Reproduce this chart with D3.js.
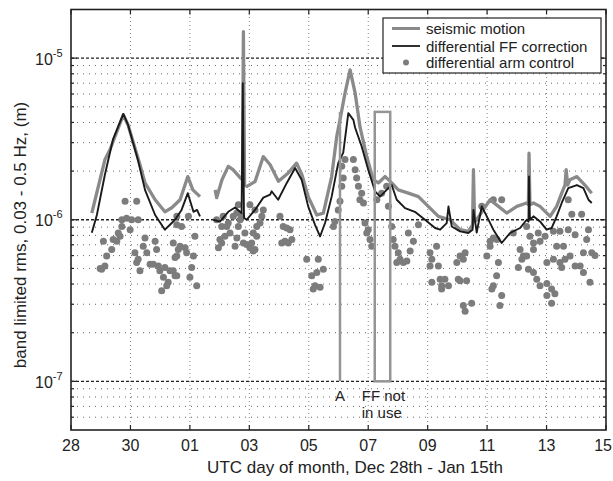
<!DOCTYPE html>
<html>
<head>
<meta charset="utf-8">
<script src="https://cdn.jsdelivr.net/npm/d3@7"></script>
<style>
  body { margin: 0; background: #fff; }
  text { font-family: "Liberation Sans", Arial, Helvetica, sans-serif; fill: #222; }
</style>
</head>
<body>
<svg id="chart" width="613" height="481"></svg>
<script>
// x = days since Dec 28 00:00 UTC, y = rms in micrometres (converted to m below)
const UM = 1e-6;

const dayTicks = [0, 2, 4, 6, 8, 10, 12, 14, 16, 18];
const dayLabels = ["28", "30", "01", "03", "05", "07", "09", "11", "13", "15"];
const decades = [1e-7, 1e-6, 1e-5];
const decadeExp = ["-7", "-6", "-5"];

// seismic motion (null = data gap)
const seismic = [
  [0.70, 1.10], [0.81, 1.33], [1.14, 2.35], [1.31, 2.71], [1.76, 4.46], [1.92, 3.86],
  [2.32, 2.19], [2.49, 1.69], [2.83, 1.33], [3.16, 1.12], [3.40, 1.19], [3.67, 1.33],
  [3.93, 1.85], [4.10, 1.53], [4.34, 1.39], [4.60, null],
  [4.85, 1.53], [4.90, 1.37], [5.08, 1.77], [5.29, 2.14], [5.45, 2.04], [5.69, 1.82],
  [5.77, 1.77], [5.80, 14.6], [5.84, 1.64], [5.92, 1.61], [6.19, 1.72], [6.47, 2.46],
  [6.70, 2.19], [6.98, 1.73], [7.31, 1.95], [7.59, 2.24], [7.77, 1.90], [7.98, 1.39],
  [8.27, 1.07], [8.49, 1.10], [8.77, 1.85], [8.94, 3.27], [9.05, 4.15], [9.22, 6.08],
  [9.39, 8.47], [9.56, 6.08], [9.72, 3.78], [9.95, 2.46], [10.17, 1.77], [10.34, 1.69],
  [10.57, 1.85], [10.79, 1.69], [11.01, 1.53], [11.35, 1.46], [11.69, 1.39], [12.02, 1.21],
  [12.36, 1.05], [12.75, 1.00], [13.09, 0.868], [13.37, 0.847], [13.51, 0.931], [13.54, 2.04],
  [13.58, 0.973], [13.65, 1.00], [13.87, 1.15], [14.10, 1.33], [14.38, 1.21], [14.66, 1.10],
  [15.00, 1.21], [15.33, 1.27], [15.39, 1.24], [15.41, 2.58], [15.44, 1.24], [15.56, 1.27],
  [15.78, 1.21], [16.12, 1.05], [16.34, 1.21], [16.51, 1.46], [16.62, 1.64], [16.66, 2.04],
  [16.71, 1.64], [16.79, 1.77], [17.02, 1.85], [17.29, 1.64], [17.52, 1.46]
];

// differential FF correction
const ffCorrection = [
  [0.70, 0.831], [0.87, 1.07], [1.14, 1.90], [1.41, 3.13], [1.76, 4.52], [1.92, 3.86],
  [2.25, 2.35], [2.49, 1.53], [2.83, 1.07], [3.16, 0.868], [3.33, 0.931], [3.50, 1.00],
  [3.72, 1.15], [3.93, 1.46], [4.12, 1.12], [4.24, 1.15], [4.34, 1.05], [4.55, null],
  [4.79, 1.00], [5.01, 0.973], [5.29, 1.12], [5.52, 1.19], [5.74, 1.10], [5.78, 7.0],
  [5.82, 1.03], [5.91, 1.00], [6.19, 1.15], [6.47, 1.37], [6.70, 1.43], [6.75, 1.50],
  [6.97, 1.33], [7.26, 1.69], [7.54, 2.09], [7.76, 1.77], [7.98, 1.21], [8.21, 0.931],
  [8.38, 0.788], [8.55, 0.958], [8.77, 1.39], [8.99, 2.24], [9.16, 2.60], [9.33, 4.57],
  [9.50, 4.15], [9.56, 3.71], [9.78, 2.84], [10.00, 2.04], [10.23, 1.50], [10.40, 1.39],
  [10.62, 1.53], [10.79, 1.64], [10.96, 1.33], [11.24, 1.18], [11.57, 1.12], [11.91, 1.00],
  [12.25, 0.889], [12.42, 0.868], [12.64, 0.954], [12.70, 1.21], [12.81, 0.909], [13.09, 0.847],
  [13.37, 0.828], [13.51, 0.868], [13.54, 1.15], [13.65, 0.834], [13.82, 1.21], [13.99, 1.05],
  [14.21, 0.868], [14.49, 0.718], [14.77, 0.828], [15.11, 0.889], [15.33, 1.00], [15.39, 0.973],
  [15.41, 1.85], [15.44, 1.00], [15.56, 1.05], [15.78, 0.976], [16.00, 0.868], [16.17, 0.889],
  [16.34, 1.05], [16.51, 1.27], [16.73, 1.57], [17.02, 1.64], [17.24, 1.57], [17.41, 1.33],
  [17.52, 1.27]
];

// differential arm control
const armControl = [
  [0.98, 0.499], [1.03, 0.494], [1.09, 0.737], [1.14, 0.518], [1.20, 0.596], [1.37, 0.655],
  [1.42, 0.754], [1.54, 0.737], [1.59, 0.828], [1.65, 0.790], [1.71, 0.909], [1.71, 1.00],
  [1.82, 1.30], [1.87, 1.02], [1.99, 0.868], [2.04, 1.00], [2.21, 1.30], [2.26, 1.00],
  [2.49, 0.772], [2.43, 0.686], [2.15, 0.625], [2.26, 0.569], [2.55, 0.625], [2.21, 0.543],
  [2.32, 0.483], [2.66, 0.530], [2.83, 0.737], [2.88, 0.655], [2.77, 0.530], [2.94, 0.518],
  [2.99, 0.483], [3.16, 0.506], [3.11, 0.440], [3.33, 0.483], [3.44, 0.483], [3.50, 0.450],
  [3.27, 0.410], [3.22, 0.391], [3.05, 0.364], [3.50, 0.583], [3.44, 0.719], [3.56, 1.05],
  [3.72, 0.909], [3.95, 1.05], [3.56, 0.932], [3.67, 0.686], [3.84, 0.670], [3.89, 0.625],
  [3.61, 0.655], [4.12, 0.596], [4.06, 0.506], [3.56, 0.596], [4.00, 0.440], [3.56, 0.450],
  [4.23, 0.391], [4.17, 0.790],
  [4.90, 1.00], [5.12, 1.05], [5.07, 0.909], [5.24, 0.909], [5.35, 0.828], [5.18, 0.790],
  [5.01, 0.754], [5.07, 0.719], [4.96, 0.670], [5.29, 0.954], [5.46, 1.05], [5.58, 1.10],
  [5.69, 1.00], [5.63, 0.909], [5.58, 0.772], [5.52, 0.686], [5.74, 1.05], [5.63, 1.24],
  [5.85, 0.828], [5.80, 0.719], [5.91, 0.703], [6.02, 0.670], [6.19, 0.655], [6.13, 0.640],
  [6.25, 0.790], [6.13, 0.828], [6.36, 0.954], [6.25, 0.909], [6.42, 1.05], [6.19, 1.15],
  [6.02, 1.24], [6.47, 1.15], [6.08, 0.719], [7.03, 1.05], [7.14, 0.909], [7.26, 0.889],
  [7.37, 0.868], [7.20, 0.737], [7.43, 0.754], [7.09, 0.719], [7.31, 0.719], [7.93, 0.569],
  [8.32, 0.569], [8.10, 0.450], [8.27, 0.472], [8.49, 0.494], [8.21, 0.391], [8.38, 0.382],
  [8.15, 0.373],
  [8.83, 0.909], [8.88, 0.977], [8.99, 1.15], [9.05, 1.30], [9.11, 1.61], [9.16, 1.81],
  [9.11, 2.14], [9.22, 2.36], [9.50, 2.36], [9.56, 2.04], [9.61, 1.81], [9.67, 1.61],
  [9.78, 1.46], [9.72, 1.33], [9.84, 1.27], [9.89, 0.954], [10.00, 0.868], [9.95, 0.828],
  [10.06, 0.754], [10.12, 0.686], [10.29, 1.33], [10.45, 1.46], [10.62, 1.61], [10.68, 1.21],
  [10.79, 0.909], [10.84, 0.754], [10.90, 0.686], [11.01, 0.625], [11.07, 0.569], [11.18, 0.543],
  [11.30, 0.556], [10.96, 0.543], [11.35, 0.828], [11.52, 0.737], [11.41, 0.640], [11.69, 0.932],
  [12.08, 0.625], [12.14, 0.569], [12.08, 0.518], [12.30, 0.686], [12.36, 0.518], [12.14, 0.410],
  [12.42, 0.429], [12.47, 0.391], [12.58, 0.429], [12.70, 0.391], [12.47, 0.373], [13.09, 0.596],
  [13.20, 0.569], [13.26, 0.625], [12.98, 0.543], [13.09, 0.419], [13.31, 0.419], [13.03, 0.429],
  [13.48, 0.304], [13.26, 0.272], [13.20, 0.295], [13.82, 1.21], [14.10, 0.737], [14.21, 0.772],
  [14.10, 0.686], [14.49, 1.33], [14.21, 1.33], [14.33, 0.754], [13.99, 0.596], [14.38, 0.543],
  [14.16, 0.373], [14.21, 0.391], [14.32, 0.450], [14.49, 0.340], [14.43, 0.295], [14.88, 0.828],
  [15.11, 0.655], [15.17, 0.569], [15.05, 0.506], [15.22, 0.596], [15.33, 0.909], [15.44, 0.790],
  [15.56, 0.719], [15.56, 0.655], [15.39, 0.494], [15.56, 0.472], [15.67, 0.429], [15.78, 0.391],
  [15.72, 0.828], [15.78, 0.737], [15.95, 0.790], [16.01, 0.543], [16.01, 0.403], [16.17, 0.373],
  [16.01, 0.340], [16.17, 0.304], [16.28, 0.348], [16.23, 0.569], [16.34, 0.686], [16.23, 0.848],
  [16.45, 0.848], [16.57, 0.686], [16.45, 0.543], [16.62, 0.569], [16.51, 0.506], [16.79, 0.596],
  [16.73, 1.33], [16.85, 1.08], [17.18, 1.08], [16.73, 0.868], [16.96, 0.809], [17.41, 0.868],
  [17.35, 0.754], [17.52, 0.625], [17.24, 0.625], [17.13, 0.518], [17.24, 0.472], [17.46, 0.410],
  [16.96, 0.518], [15.33, 0.596], [17.63, 0.600]
];

// annotations: event "A" and the "FF not in use" interval
const eventA = { day: 9.05, top: 4.65 };
const ffOff = { start: 10.22, end: 10.74, top: 4.65 };

const width = 613, height = 481;
const margin = { top: 9.5, right: 7, bottom: 51, left: 71 };
const x0 = margin.left, x1 = width - margin.right;
const y0 = height - margin.bottom, y1 = margin.top;

const svg = d3.select("#chart");

const x = d3.scaleLinear().domain([0, 18]).range([x0, x1]);
const y = d3.scaleLog().domain([5e-8, 2e-5]).range([y0, y1]);

const gray = "#8a8a8a";

// minor horizontal grid (2..9 of each decade, inside the domain)
const minorVals = [];
[1e-8, 1e-7, 1e-6, 1e-5].forEach(dec => {
  for (let m = 2; m <= 9; m++) {
    const v = m * dec;
    if (v > 5e-8 && v < 2e-5) minorVals.push(v);
  }
});

const grid = svg.append("g");
grid.selectAll(".hmin").data(minorVals).enter().append("line")
  .attr("x1", x0).attr("x2", x1)
  .attr("y1", d => y(d)).attr("y2", d => y(d))
  .attr("stroke", "#555").attr("stroke-width", 0.9)
  .attr("stroke-dasharray", "1,5");

grid.selectAll(".vgrid").data(dayTicks.slice(1, -1)).enter().append("line")
  .attr("x1", d => x(d)).attr("x2", d => x(d))
  .attr("y1", y0).attr("y2", y1)
  .attr("stroke", "#666").attr("stroke-width", 0.8)
  .attr("stroke-dasharray", "1,3");

grid.selectAll(".hdec").data(decades).enter().append("line")
  .attr("x1", x0).attr("x2", x1)
  .attr("y1", d => y(d)).attr("y2", d => y(d))
  .attr("stroke", "#222").attr("stroke-width", 1.4)
  .attr("stroke-dasharray", "3,2");

// arm control dots
svg.append("g").selectAll("circle").data(armControl).enter().append("circle")
  .attr("cx", d => x(d[0]))
  .attr("cy", d => y(d[1] * UM))
  .attr("r", 3.5)
  .attr("fill", "#7c7c7c");

const line = d3.line()
  .defined(d => d[1] != null)
  .x(d => x(d[0]))
  .y(d => y(d[1] * UM));

svg.append("path").datum(seismic)
  .attr("d", line)
  .attr("fill", "none").attr("stroke", gray).attr("stroke-width", 3.3)
  .attr("stroke-linejoin", "round");

svg.append("path").datum(ffCorrection)
  .attr("d", line)
  .attr("fill", "none").attr("stroke", "#1a1a1a").attr("stroke-width", 1.9)
  .attr("stroke-linejoin", "round");

// annotations
svg.append("line")
  .attr("x1", x(eventA.day)).attr("x2", x(eventA.day))
  .attr("y1", y(eventA.top * UM)).attr("y2", y(1e-7))
  .attr("stroke", "#959595").attr("stroke-width", 2.5);

svg.append("rect")
  .attr("x", x(ffOff.start)).attr("y", y(ffOff.top * UM))
  .attr("width", x(ffOff.end) - x(ffOff.start))
  .attr("height", y(1e-7) - y(ffOff.top * UM))
  .attr("fill", "none").attr("stroke", "#959595").attr("stroke-width", 2.5);

svg.append("text").attr("x", x(eventA.day)).attr("y", 401)
  .attr("text-anchor", "middle").style("font-size", "15px").text("A");
svg.append("text").attr("x", x(ffOff.start) - 13).attr("y", 401)
  .style("font-size", "15px").text("FF not");
svg.append("text").attr("x", x(ffOff.start) - 13).attr("y", 418)
  .style("font-size", "15px").text("in use");

// frame
svg.append("rect")
  .attr("x", x0).attr("y", y1).attr("width", x1 - x0).attr("height", y0 - y1)
  .attr("fill", "none").attr("stroke", "#222").attr("stroke-width", 1.6);

// ticks (inward, on all four sides)
const ticks = svg.append("g").attr("stroke", "#222").attr("stroke-width", 1.2);
dayTicks.forEach(d => {
  ticks.append("line").attr("x1", x(d)).attr("x2", x(d)).attr("y1", y0).attr("y2", y0 - 5);
  ticks.append("line").attr("x1", x(d)).attr("x2", x(d)).attr("y1", y1).attr("y2", y1 + 5);
});
decades.forEach(d => {
  ticks.append("line").attr("x1", x0).attr("x2", x0 + 6).attr("y1", y(d)).attr("y2", y(d));
  ticks.append("line").attr("x1", x1).attr("x2", x1 - 6).attr("y1", y(d)).attr("y2", y(d));
});
minorVals.forEach(d => {
  ticks.append("line").attr("x1", x0).attr("x2", x0 + 3).attr("y1", y(d)).attr("y2", y(d));
  ticks.append("line").attr("x1", x1).attr("x2", x1 - 3).attr("y1", y(d)).attr("y2", y(d));
});

// tick labels (last one kept inside the window)
const lastTick = dayTicks.length - 1;
svg.append("g").selectAll("text").data(dayTicks).enter().append("text")
  .attr("x", (d, i) => i === lastTick ? width - 1 : x(d)).attr("y", y0 + 21)
  .attr("text-anchor", (d, i) => i === lastTick ? "end" : "middle")
  .style("font-size", "16px")
  .text((d, i) => dayLabels[i]);

const ylab = svg.append("g").selectAll("text").data(decades).enter().append("text")
  .attr("x", 35).attr("y", d => y(d) + 6.5)
  .style("font-size", "16px");
ylab.append("tspan").text("10");
ylab.append("tspan").attr("dy", -8).style("font-size", "11px").text((d, i) => decadeExp[i]);

// axis titles
svg.append("text").attr("x", 355).attr("y", 473)
  .attr("text-anchor", "middle").style("font-size", "17px")
  .text("UTC day of month, Dec 28th - Jan 15th");
svg.append("text")
  .attr("transform", `translate(26,235) rotate(-90)`)
  .attr("text-anchor", "middle").style("font-size", "17px")
  .text("band limited rms, 0.03 - 0.5 Hz, (m)");

// legend
const lg = svg.append("g");
lg.append("rect").attr("x", 383).attr("y", 18).attr("width", 218).attr("height", 55)
  .attr("fill", "#fff").attr("stroke", "#222").attr("stroke-width", 1.2);
const rows = [
  { label: "seismic motion", kind: "line", color: gray, w: 3, cy: 28.5 },
  { label: "differential FF correction", kind: "line", color: "#1a1a1a", w: 1.8, cy: 46 },
  { label: "differential arm control", kind: "dot", color: "#7c7c7c", cy: 62.5 }
];
rows.forEach(r => {
  if (r.kind === "line") {
    lg.append("line").attr("x1", 392).attr("x2", 420).attr("y1", r.cy).attr("y2", r.cy)
      .attr("stroke", r.color).attr("stroke-width", r.w);
  } else {
    lg.append("circle").attr("cx", 406).attr("cy", r.cy).attr("r", 3).attr("fill", r.color);
  }
  lg.append("text").attr("x", 426).attr("y", r.cy + 5.5)
    .style("font-size", "15px").text(r.label);
});
</script>
</body>
</html>
